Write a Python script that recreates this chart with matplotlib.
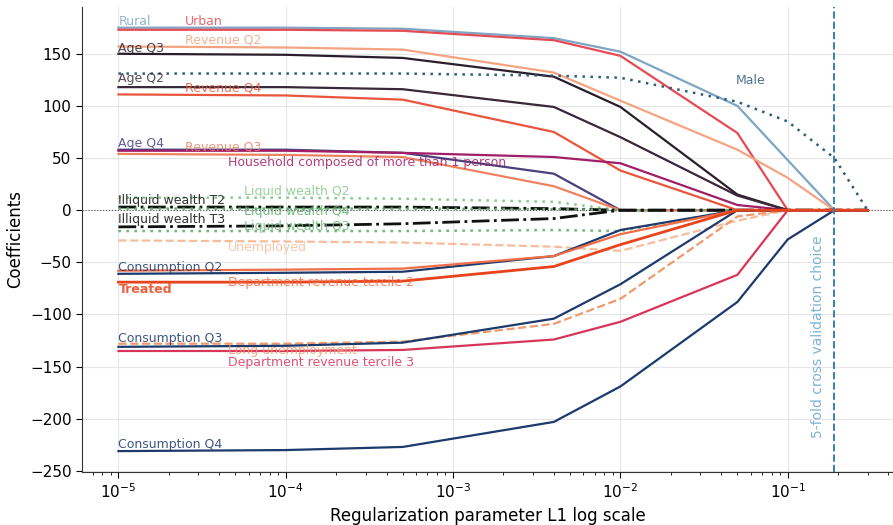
import matplotlib
matplotlib.use("Agg")
import matplotlib.pyplot as plt
from matplotlib.ticker import LogLocator, NullFormatter

# Regularization path of a Lasso model: coefficient of each variable vs. alpha
alphas = [1e-5, 1e-4, 5e-4, 4e-3, 1e-2, 5e-2, 1e-1, 0.19, 0.3]
cv_alpha = 0.19

rural = [175, 175, 174, 165, 152, 100, 48, 0, 0]
urban = [173, 173, 172, 163, 148, 74, 0, 0, 0]
revenue_q2 = [157, 156, 154, 132, 105, 58, 31, 0, 0]
age_q3 = [150, 149, 146, 128, 99, 15, 0, 0, 0]
male = [131, 131, 131, 129, 127, 104, 85, 50, 0]
age_q2 = [118, 118, 116, 99, 70, 14, 0, 0, 0]
revenue_q4 = [111, 110, 106, 75, 38, 0, 0, 0, 0]
age_q4 = [58, 58, 55, 35, 0, 0, 0, 0, 0]
household = [57, 57, 55, 51, 45, 5, 0, 0, 0]
revenue_q3 = [54, 53, 51, 23, 0, 0, 0, 0, 0]
liquid_q2 = [12, 12, 11, 8, 0, 0, 0, 0, 0]
illiquid_t2 = [3, 3, 3, 1.5, 0, 0, 0, 0, 0]
liquid_q4 = [1.5, 1.5, 1.5, 1, 0, 0, 0, 0, 0]
illiquid_t3 = [-16, -15, -13, -8, 0, 0, 0, 0, 0]
liquid_q3 = [-20, -20, -20, -19, -20, 0, 0, 0, 0]
unemployed = [-29, -30, -31, -35, -39, -10, 0, 0, 0]
consumption_q2 = [-61, -60, -59, -44, -19, 0, 0, 0, 0]
dept_tercile_2 = [-58, -57, -56, -44, -23, 0, 0, 0, 0]
treated = [-69, -69, -68, -54, -33, 0, 0, 0, 0]
long_unemployment = [-128, -128, -126, -109, -85, -6, 0, 0, 0]
consumption_q3 = [-131, -130, -127, -104, -71, 0, 0, 0, 0]
dept_tercile_3 = [-135, -135, -134, -124, -107, -62, 0, 0, 0]
consumption_q4 = [-231, -230, -227, -203, -169, -88, -28, 0, 0]

DOT = (0, (1, 2.2))

# name, values, colour, linestyle, linewidth, label x, label y, bold
series = [
    ("Rural", rural, "#7ea5c4", "-", 1.6, 1e-5, 181, False),
    ("Urban", urban, "#e54b55", "-", 1.6, 2.5e-5, 181, False),
    ("Revenue Q2", revenue_q2, "#f4a482", "-", 1.6, 2.5e-5, 163, False),
    ("Age Q3", age_q3, "#2a1e2c", "-", 1.6, 1e-5, 155, False),
    ("Male", male, "#2e5c7a", DOT, 1.8, 0.049, 124, False),
    ("Age Q2", age_q2, "#3a2838", "-", 1.6, 1e-5, 126, False),
    ("Revenue Q4", revenue_q4, "#e9553c", "-", 1.6, 2.5e-5, 117, False),
    ("Age Q4", age_q4, "#4b3f7c", "-", 1.6, 1e-5, 64, False),
    ("Household composed of more than 1 person", household, "#a21d68", "-", 1.6, 4.5e-5, 46, False),
    ("Revenue Q3", revenue_q3, "#ee8260", "-", 1.6, 2.5e-5, 61, False),
    ("Liquid wealth Q2", liquid_q2, "#86c98a", DOT, 1.8, 5.6e-5, 18, False),
    ("Illiquid wealth T2", illiquid_t2, "#111111", "-.", 2.0, 1e-5, 9, False),
    ("Liquid wealth Q4", liquid_q4, "#5fae6e", DOT, 1.8, 5.6e-5, -1.5, False),
    ("Illiquid wealth T3", illiquid_t3, "#111111", "-.", 2.0, 1e-5, -9, False),
    ("Liquid wealth Q3", liquid_q3, "#6ab675", DOT, 1.8, 5.6e-5, -16, False),
    ("Unemployed", unemployed, "#f5bd9c", "--", 1.6, 4.5e-5, -36, False),
    ("Consumption Q2", consumption_q2, "#1c3a6c", "-", 1.6, 1e-5, -55, False),
    ("Department revenue tercile 2", dept_tercile_2, "#ef6d47", "-", 1.6, 4.5e-5, -69, False),
    ("Long unemployment", long_unemployment, "#ef9a6c", "--", 1.6, 4.5e-5, -135, False),
    ("Consumption Q3", consumption_q3, "#1c3a6c", "-", 1.6, 1e-5, -123, False),
    ("Department revenue tercile 3", dept_tercile_3, "#d9345a", "-", 1.6, 4.5e-5, -146, False),
    ("Consumption Q4", consumption_q4, "#1c3a6c", "-", 1.6, 1e-5, -225, False),
    ("Treated", treated, "#e8431b", "-", 2.0, 1e-5, -76, True),
]

fig = plt.figure(figsize=(8.93, 5.25), dpi=100)
ax = fig.add_axes([0.0918, 0.101, 0.9082, 0.886])

ax.axhline(0, color="#555555", ls=":", lw=0.8, zorder=1)

for name, vals, color, ls, lw, lx, ly, bold in series:
    ax.plot(alphas, vals, color=color, ls=ls, lw=lw, zorder=2)
    ax.text(lx, ly, name, color=color, alpha=0.85, fontsize=9,
            ha="left", va="center", fontweight="bold" if bold else "normal",
            zorder=3)

ax.axvline(cv_alpha, color="#3b7fa6", ls="--", lw=1.4, zorder=2)
ax.text(0.152, -121, "5-fold cross validation choice", rotation=90,
        color="#7fb2d4", fontsize=10, ha="center", va="center")

ax.set_xscale("log")
ax.set_xlim(10 ** -5.218, 10 ** -0.371)
ax.set_ylim(-251, 195)
ax.set_yticks([-250, -200, -150, -100, -50, 0, 50, 100, 150])
ax.xaxis.set_major_locator(LogLocator(base=10, numticks=12))
ax.xaxis.set_minor_locator(LogLocator(base=10, subs=range(2, 10), numticks=12))
ax.xaxis.set_minor_formatter(NullFormatter())

ax.grid(True, which="major", color="#e6e6e6", lw=0.8)
ax.set_axisbelow(True)
for side in ("top", "right"):
    ax.spines[side].set_visible(False)
for side in ("left", "bottom"):
    ax.spines[side].set_color("#333333")

ax.tick_params(axis="both", which="major", labelsize=11, length=4)
ax.tick_params(axis="x", which="minor", length=2.5)

ax.set_xlabel("Regularization parameter L1 log scale", fontsize=12)
ax.set_ylabel("Coefficients", fontsize=12)

fig.savefig("out.png", dpi=100)
